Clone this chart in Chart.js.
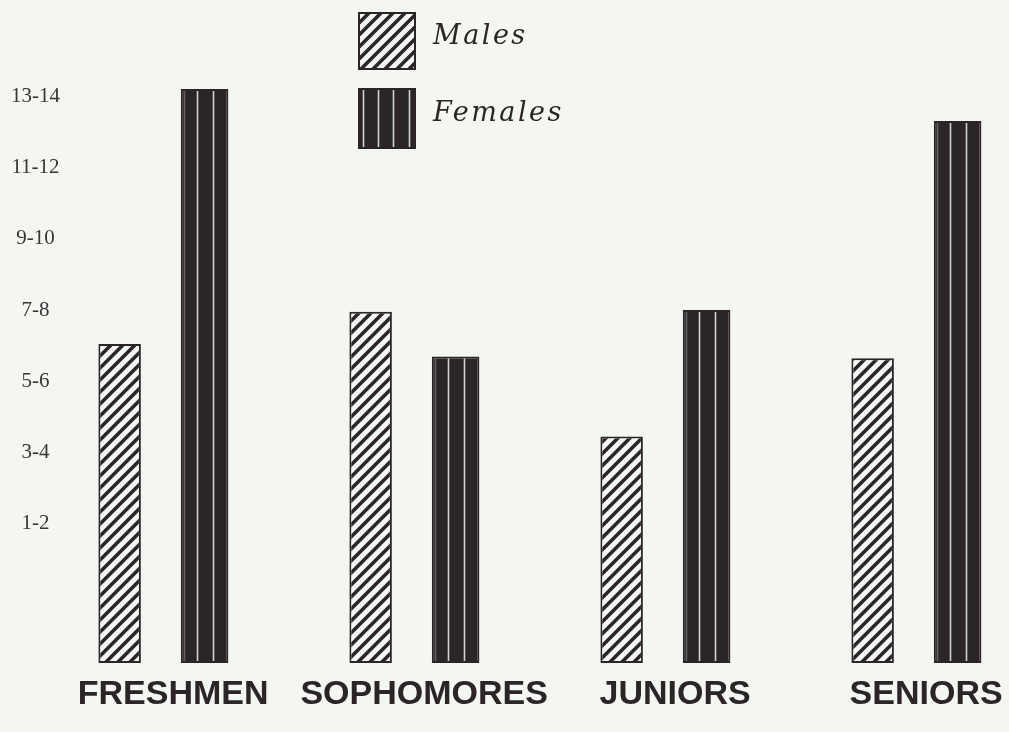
<!DOCTYPE html>
<html>
<head>
<meta charset="utf-8">
<script src="https://cdn.jsdelivr.net/npm/chart.js@4.4.0/dist/chart.umd.min.js"></script>
<style>
  html, body { margin: 0; padding: 0; background: #f3f6f1; overflow: hidden; }
  #wrap { position: relative; width: 1009px; height: 732px; }
  #chart { position: absolute; left: 0; top: 0; }
  #legend { position: absolute; left: 358px; top: 12px; }
  .row { position: absolute; left: 0; display: flex; align-items: center; white-space: nowrap; }
  .row canvas { display: block; }
  .row span {
    margin-left: 17px;
    font-family: "DejaVu Serif", serif;
    font-style: italic;
    font-size: 27px;
    letter-spacing: 2.5px;
    color: #2b2527;
    padding-bottom: 14px;
  }
</style>
</head>
<body>
<div id="wrap">
  <canvas id="chart" width="1009" height="732"></canvas>
  <div id="legend"></div>
</div>
<script>
// Class years along the bottom
const classes = ['FRESHMEN', 'SOPHOMORES', 'JUNIORS', 'SENIORS'];
// Range labels on the value axis (each placed at its range midpoint)
const rangeLabels = ['1-2', '3-4', '5-6', '7-8', '9-10', '11-12', '13-14'];
// Series
const seriesNames = ['Males', 'Females'];
const males = [6.55, 7.45, 3.95, 6.15];
const females = [13.7, 6.2, 7.5, 12.8];

const INK = '#2b2527';
const PAPER = '#f6f8f5';
const FLOOR = -2.4;   // bars rise from the bottom edge of the plot

function midpoint(label) {
  const [a, b] = label.split('-').map(Number);
  return (a + b) / 2;
}
const labelAt = new Map(rangeLabels.map(l => [midpoint(l), l]));

// Diagonal "/" hatching used for the Males bars
function makeHatch(target) {
  const s = 12;
  const tile = document.createElement('canvas');
  tile.width = s; tile.height = s;
  const t = tile.getContext('2d');
  t.fillStyle = PAPER;
  t.fillRect(0, 0, s, s);
  t.strokeStyle = INK;
  t.lineWidth = 3.6;
  t.beginPath();
  t.moveTo(0, s); t.lineTo(s, 0);
  t.moveTo(-s / 2, s / 2); t.lineTo(s / 2, -s / 2);
  t.moveTo(s / 2, 3 * s / 2); t.lineTo(3 * s / 2, s / 2);
  t.stroke();
  return target.createPattern(tile, 'repeat');
}

// Thin light rules running down a solid Females bar
function drawRules(ctx, left, top, w, h, positions) {
  ctx.save();
  ctx.lineWidth = 1.6;
  ctx.strokeStyle = 'rgba(214,219,217,0.95)';
  ctx.beginPath();
  positions.forEach(px => {
    ctx.moveTo(Math.round(left + px) + 0.5, top + 2);
    ctx.lineTo(Math.round(left + px) + 0.5, top + h - 2);
  });
  ctx.stroke();
  ctx.restore();
}

const rulesPlugin = {
  id: 'femaleRules',
  afterDatasetsDraw(chart) {
    const meta = chart.getDatasetMeta(1);
    meta.data.forEach(bar => {
      const { x, y, base, width } = bar.getProps(['x', 'y', 'base', 'width'], true);
      const left = x - width / 2;
      drawRules(chart.ctx, left, y, width, base - y, [width / 3, 2 * width / 3]);
      chart.ctx.save();
      chart.ctx.globalAlpha = 0.35;
      drawRules(chart.ctx, left, y, width, base - y, [3]);
      chart.ctx.restore();
    });
  }
};

const canvas = document.getElementById('chart');
const ctx = canvas.getContext('2d');
const hatch = makeHatch(ctx);

const chart = new Chart(ctx, {
  type: 'bar',
  data: {
    datasets: [
      {
        label: seriesNames[0],
        data: males.map((v, i) => ({ x: i, y: v })),
        backgroundColor: hatch,
        borderColor: INK,
        borderWidth: 2,
        borderSkipped: false,
        base: FLOOR,
        categoryPercentage: 0.677,
        barPercentage: 0.5
      },
      {
        label: seriesNames[1],
        data: females.map((v, i) => ({ x: i, y: v })),
        backgroundColor: INK,
        borderColor: INK,
        borderWidth: 2,
        borderSkipped: false,
        base: FLOOR,
        categoryPercentage: 0.677,
        barPercentage: 0.56
      }
    ]
  },
  options: {
    responsive: false,
    animation: false,
    events: [],
    layout: { padding: { top: 7, left: 0, right: 0, bottom: 0 } },
    plugins: {
      legend: { display: false },
      tooltip: { enabled: false }
    },
    scales: {
      x: {
        type: 'linear',
        offset: false,
        min: -0.367,
        max: 3.374,
        grid: { display: false, drawTicks: false, offset: false },
        border: { display: false },
        afterBuildTicks(scale) { scale.ticks = classes.map((_, i) => ({ value: i })); },
        afterFit(scale) {
          scale.height = 69;
          scale.paddingLeft = 0;
          scale.paddingRight = 0;
        },
        ticks: {
          autoSkip: false,
          maxRotation: 0,
          minRotation: 0,
          padding: 11,
          labelOffset: 11,
          color: INK,
          font: { family: '"Liberation Sans", Arial, sans-serif', weight: 'bold', size: 34 },
          callback: v => classes[v]
        }
      },
      y: {
        min: FLOOR,
        max: 16,
        grid: { display: false, drawTicks: false },
        border: { display: false },
        afterBuildTicks(scale) { scale.ticks = rangeLabels.map(l => ({ value: midpoint(l) })); },
        afterFit(scale) {
          scale.width = 70;
          scale.paddingTop = 0;
          scale.paddingBottom = 0;
        },
        ticks: {
          crossAlign: 'center',
          padding: 10,
          color: '#3a3436',
          font: { family: '"Liberation Serif", "Times New Roman", serif', size: 21 },
          callback: v => labelAt.get(v)
        }
      }
    }
  },
  plugins: [rulesPlugin]
});

// Legend built from the datasets
const legend = document.getElementById('legend');
chart.data.datasets.forEach((ds, i) => {
  const row = document.createElement('div');
  row.className = 'row';
  row.style.top = (i * 76) + 'px';
  const sw = document.createElement('canvas');
  sw.width = 58; sw.height = i === 0 ? 58 : 61;
  const s = sw.getContext('2d');
  if (i === 0) {
    s.fillStyle = makeHatch(s);
    s.fillRect(0, 0, sw.width, sw.height);
  } else {
    s.fillStyle = INK;
    s.fillRect(0, 0, sw.width, sw.height);
    drawRules(s, 0, 0, sw.width, sw.height, [5, 20, 35, 51]);
  }
  s.strokeStyle = INK;
  s.lineWidth = 2;
  s.strokeRect(1, 1, sw.width - 2, sw.height - 2);
  const label = document.createElement('span');
  label.textContent = ds.label;
  row.appendChild(sw);
  row.appendChild(label);
  legend.appendChild(row);
});
</script>
</body>
</html>
